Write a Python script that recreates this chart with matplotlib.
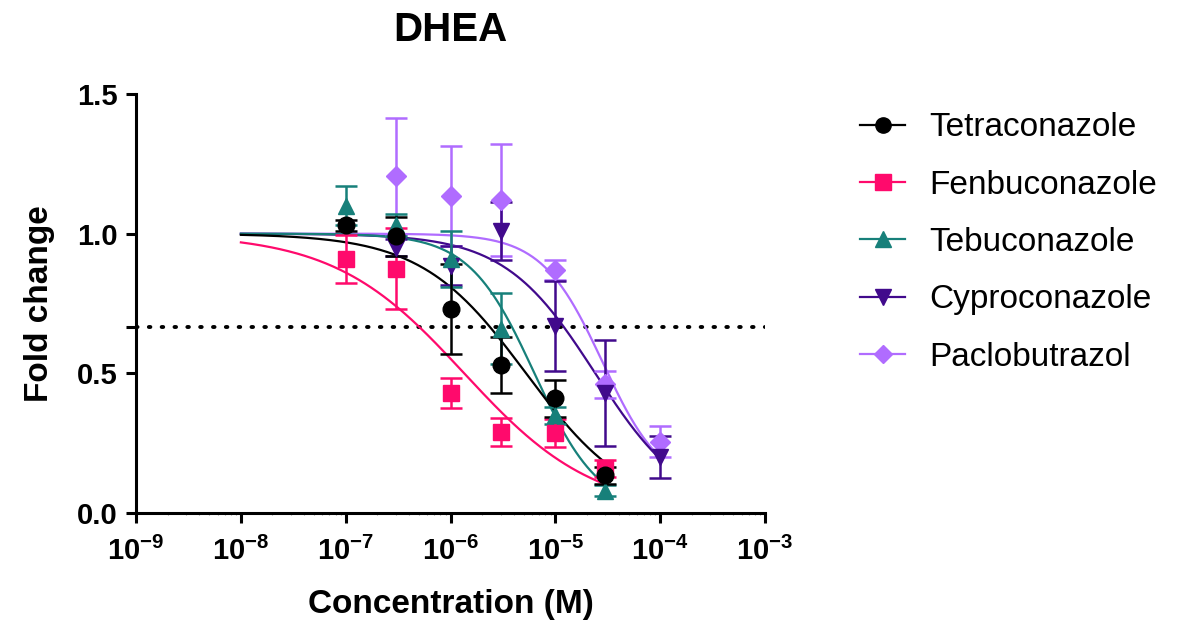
import numpy as np
import matplotlib
matplotlib.use("Agg")
import matplotlib.pyplot as plt
from matplotlib.ticker import FixedLocator, LogLocator, NullFormatter, FuncFormatter

plt.rcParams['font.family'] = ['Liberation Sans', 'DejaVu Sans']
plt.rcParams['mathtext.fontset'] = 'custom'
plt.rcParams['mathtext.rm'] = 'Liberation Sans:bold'
plt.rcParams['mathtext.bf'] = 'Liberation Sans:bold'

# Datos
compuestos = ['Tetraconazole', 'Fenbuconazole', 'Tebuconazole', 'Cyproconazole', 'Paclobutrazol']
colores = ['#000000', '#FF0A6C', '#17807A', '#410A8C', '#B06CFF']
marcadores = ['o', 's', '^', 'v', 'D']

conc_tetra = [1e-7, 3e-7, 1e-6, 3e-6, 1e-5, 3e-5]
fc_tetra = [1.03, 0.99, 0.73, 0.53, 0.41, 0.135]
err_tetra = [0.02, 0.07, 0.16, 0.10, 0.065, 0.03]

conc_fenbu = [1e-7, 3e-7, 1e-6, 3e-6, 1e-5, 3e-5]
fc_fenbu = [0.91, 0.875, 0.43, 0.29, 0.285, 0.16]
err_fenbu = [0.085, 0.145, 0.055, 0.05, 0.05, 0.03]

conc_tebu = [1e-7, 3e-7, 1e-6, 3e-6, 1e-5, 3e-5]
fc_tebu = [1.10, 1.03, 0.91, 0.66, 0.35, 0.08]
err_tebu = [0.07, 0.04, 0.10, 0.127, 0.03, 0.02]

conc_cypro = [3e-7, 1e-6, 3e-6, 1e-5, 3e-5, 1e-4]
fc_cypro = [0.95, 0.885, 1.01, 0.67, 0.43, 0.20]
err_cypro = [0.03, 0.07, 0.105, 0.16, 0.19, 0.075]

conc_paclo = [3e-7, 1e-6, 3e-6, 1e-5, 3e-5, 1e-4]
fc_paclo = [1.205, 1.135, 1.12, 0.87, 0.46, 0.255]
err_paclo = [0.21, 0.18, 0.20, 0.035, 0.05, 0.055]

# Parametros de las curvas ajustadas (logIC50, pendiente de Hill, minimo, concentracion final)
log_ic50 = [-5.28, -5.87, -5.2, -4.62, -4.55]
hill = [0.87, 0.7, 1.4, 1.0, 1.5]
fondo = [0.0, 0.0, 0.0, 0.0, 0.08]
conc_fin = [3e-5, 3e-5, 3e-5, 1e-4, 1e-4]

concentraciones = [conc_tetra, conc_fenbu, conc_tebu, conc_cypro, conc_paclo]
valores = [fc_tetra, fc_fenbu, fc_tebu, fc_cypro, fc_paclo]
errores = [err_tetra, err_fenbu, err_tebu, err_cypro, err_paclo]

fig = plt.figure(figsize=(11.79, 6.24), dpi=100)
ax = fig.add_axes([0.1154, 0.1779, 0.5335, 0.6715])

ax.axhline(2 / 3, color='black', linewidth=2.8, linestyle=(0, (0.4, 2.9)),
           dash_capstyle='round', zorder=1)

for i in reversed(range(len(compuestos))):
    xs = np.logspace(-8, np.log10(conc_fin[i]), 300)
    ys = fondo[i] + (1 - fondo[i]) / (1 + 10 ** ((np.log10(xs) - log_ic50[i]) * hill[i]))
    ax.plot(xs, ys, color=colores[i], linewidth=1.6, zorder=2)
    ax.errorbar(concentraciones[i], valores[i], yerr=errores[i], fmt='none',
                ecolor=colores[i], elinewidth=1.8, capsize=8, capthick=1.8, zorder=3)
    ax.plot(concentraciones[i], valores[i], linestyle='none', marker=marcadores[i],
            markersize=12 if marcadores[i] != 'D' else 10, color=colores[i], zorder=4)

handles = [plt.Line2D([], [], color=colores[i], marker=marcadores[i], linewidth=1.6,
                      markersize=11 if marcadores[i] != 'D' else 9.5)
           for i in range(len(compuestos))]
ax.legend(handles, compuestos, loc='upper left', bbox_to_anchor=(0.704, 0.868),
          bbox_transform=fig.transFigure, frameon=False, fontsize=24,
          handlelength=1.35, handletextpad=0.72, labelspacing=0.79)

ax.set_xscale('log')
ax.set_xlim(1e-9, 1e-3)
ax.set_ylim(0, 1.5)
ax.xaxis.set_major_locator(FixedLocator([10.0 ** e for e in range(-9, -2)]))
ax.xaxis.set_major_formatter(FuncFormatter(lambda v, p: r'$10^{%d}$' % round(np.log10(v))))
ax.xaxis.set_minor_locator(LogLocator(base=10, subs=np.arange(2, 10), numticks=20))
ax.xaxis.set_minor_formatter(NullFormatter())
ax.set_yticks([0, 0.5, 2 / 3, 1.0, 1.5])
ax.set_yticklabels(['0.0', '0.5', '', '1.0', '1.5'])

for lado in ['top', 'right']:
    ax.spines[lado].set_visible(False)
for lado in ['left', 'bottom']:
    ax.spines[lado].set_linewidth(2.2)
ax.tick_params(which='major', length=7, width=2.2, labelsize=21)
ax.tick_params(axis='x', which='major', pad=10)
ax.tick_params(axis='y', which='major', pad=6)
ax.tick_params(which='minor', axis='x', length=1.5, width=0.8, color='#999999')
for etiqueta in ax.get_yticklabels():
    etiqueta.set_fontweight('bold')

ax.set_xlabel('Concentration (M)', fontsize=24, fontweight='bold', labelpad=17)
ax.set_ylabel('Fold change', fontsize=24, fontweight='bold', labelpad=16)
ax.set_title('DHEA', fontsize=29, fontweight='bold', pad=38)

fig.savefig('out.png', dpi=100)
